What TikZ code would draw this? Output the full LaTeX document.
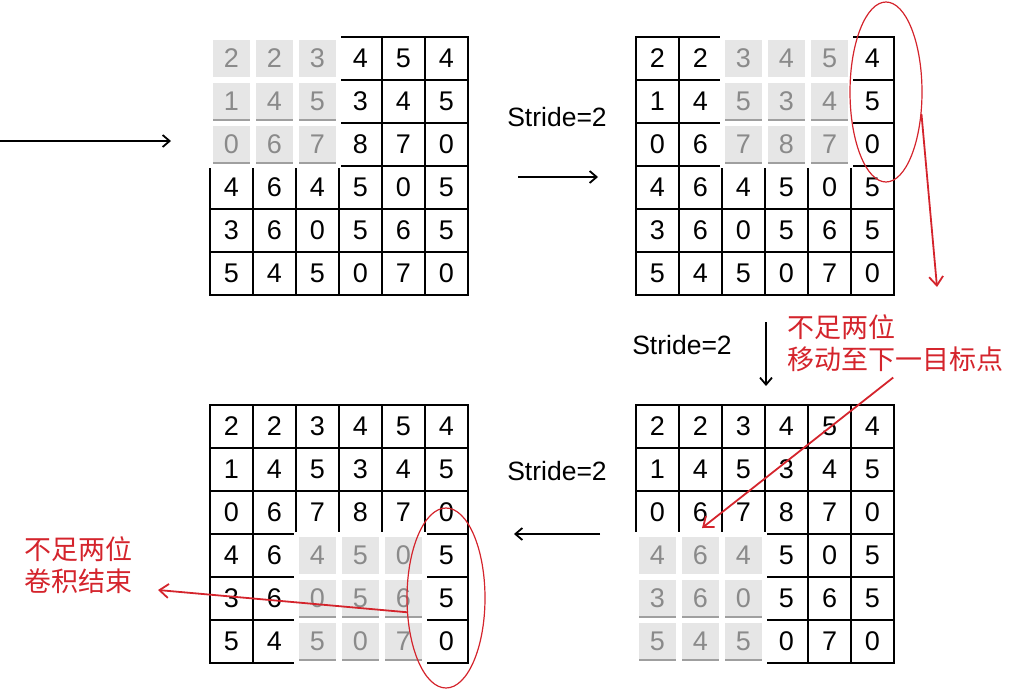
\documentclass[tikz,border=0pt]{standalone}
\usepackage{fontspec}
\setmainfont{Liberation Sans}
\newfontfamily\cjk{Noto Sans CJK SC}
\usepackage{tikz}
\usetikzlibrary{positioning,arrows.meta,shapes.geometric}
\definecolor{convred}{RGB}{212,36,44}
\definecolor{cellgrey}{RGB}{230,230,230}
\definecolor{numgrey}{RGB}{138,138,138}

% 6x6 input map; #1 name, #2/#3 top-left corner, #4/#5 first row/column of the 3x3 window
\newcommand{\convgrid}[5]{%
  \begin{scope}[shift={(#2,#3)}]
    \foreach \i in {0,...,6} {
      \draw[gridline] (\i*43,0) -- (\i*43,258);
      \draw[gridline] (0,\i*43) -- (258,\i*43);
    }
    % window
    \fill[white] ({#5*43-2},{#4*43-2}) rectangle ({#5*43+131},{#4*43+131});
    \foreach \dr in {0,1,2} \foreach \dc in {0,1,2} {
      \fill[cellgrey] ({(#5+\dc)*43+3},{(#4+\dr)*43+3}) rectangle ({(#5+\dc+1)*43-3},{(#4+\dr+1)*43-3});
    }
    \foreach \dr in {1,2} \foreach \dc in {0,1,2} {
      \draw[winedge] ({(#5+\dc)*43+3},{(#4+\dr+1)*43-3}) -- ({(#5+\dc+1)*43-3},{(#4+\dr+1)*43-3});
    }
    % values
    \foreach \row [count=\ri from 0] in {{2,2,3,4,5,4},{1,4,5,3,4,5},{0,6,7,8,7,0},{4,6,4,5,0,5},{3,6,0,5,6,5},{5,4,5,0,7,0}} {
      \foreach \v [count=\ci from 0] in \row {
        \pgfmathtruncatemacro\inwin{(\ri>=#4)&&(\ri<#4+3)&&(\ci>=#5)&&(\ci<#5+3)}
        \ifnum\inwin=1 \def\numcol{numgrey}\else\def\numcol{black}\fi
        \node[num, text=\numcol] (#1-\ri-\ci) at (\ci*43+21.5,\ri*43+21.5) {\v};
      }
    }
  \end{scope}}

\begin{document}
\begin{tikzpicture}[
    x=1pt, y=-1pt,
    gridline/.style={line width=1.6pt, line cap=rect},
    winedge/.style={line width=1.2pt, gray!75},
    num/.style={inner sep=0pt, font=\fontsize{27}{32}\selectfont},
    stride/.style={inner sep=0pt, font=\fontsize{26.5}{31}\selectfont},
    note/.style={inner sep=0pt, anchor=north west, align=left, text=convred,
                 font=\cjk\fontsize{27}{32}\selectfont},
    ring/.style={ellipse, draw=convred, line width=1.2pt, inner sep=0pt},
    arr/.style={-{Straight Barb[length=7pt,width=12pt]}, line width=1.8pt},
    redarr/.style={-{Straight Barb[length=9pt,width=14pt]}, line width=1.8pt, convred},
]
  \useasboundingbox (0,0) rectangle (1018,694);
  % four positions of the window
  \convgrid{ga}{210}{37}{0}{0}
  \convgrid{gb}{636}{37}{0}{2}
  \convgrid{gc}{636}{405}{3}{0}
  \convgrid{gd}{210}{405}{3}{2}
  % stride labels and arrows
  \node[stride] (s1) at (557,117) {Stride=2};
  \node[stride] (s2) at (682,345) {Stride=2};
  \node[stride] (s3) at (557,471) {Stride=2};
  \coordinate (in0) at (0,141);
  \coordinate (in1) at (171,141);
  \coordinate (ab0) at (518,177);
  \coordinate (ab1) at (598,177);
  \coordinate (bc0) at (766,322);
  \coordinate (bc1) at (766,386);
  \coordinate (cd0) at (600,534);
  \coordinate (cd1) at (514,534);
  \draw[arr] (in0) -- (in1);
  \draw[arr] (ab0) -- (ab1);
  \draw[arr] (bc0) -- (bc1);
  \draw[arr] (cd0) -- (cd1);
  % red notes
  \node[ring, minimum width=72pt, minimum height=180pt] (e1) at (886,92) {};
  \node[ring, minimum width=78pt, minimum height=180pt] (e2) at (446,598) {};
  \node[note] (n1) at (787,314) {不足两位\\移动至下一目标点};
  \node[note] (n2) at (24,536) {不足两位\\卷积结束};
  \coordinate (t1) at (937,287);
  \coordinate (t2) at (702,528);
  \coordinate (t3) at (158,590);
  \draw[redarr] (e1.-32) -- (t1);
  \draw[redarr] ([xshift=-2pt,yshift=-6pt]n1.south) -- (t2);
  \draw[redarr] (e2.200) -- (t3);
\end{tikzpicture}
\end{document}
